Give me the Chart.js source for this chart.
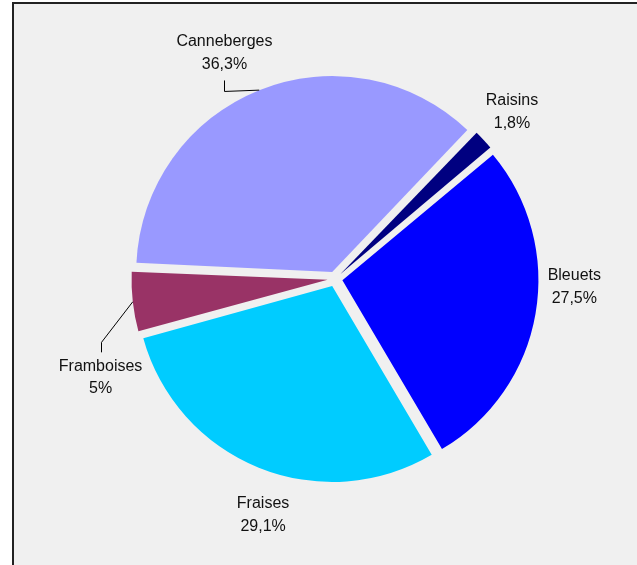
<!DOCTYPE html>
<html>
<head>
<meta charset="utf-8">
<script src="https://cdn.jsdelivr.net/npm/chart.js@4.4.1/dist/chart.umd.min.js"></script>
<style>
  html, body { margin: 0; padding: 0; background: #ffffff; width: 637px; height: 565px; overflow: hidden; }
  #frame { position: absolute; left: 12px; top: 2px; width: 640px; height: 580px;
           background: #f0f0f0; border-top: 2px solid #222; border-left: 2px solid #222; }
  #c { position: absolute; left: 0; top: 0; }
</style>
</head>
<body>
<div id="frame"></div>
<canvas id="c" width="637" height="565"></canvas>
<script>
// ---- data ----
const categories = ['Canneberges', 'Raisins', 'Bleuets', 'Fraises', 'Framboises'];
const values = [36.3, 1.8, 27.5, 29.1, 5];
const valueLabels = ['36,3%', '1,8%', '27,5%', '29,1%', '5%'];
const colors = ['#9999ff', '#000080', '#0000ff', '#00ccff', '#993366'];

// ---- layout (label placement relative to pie centre, in units of radius) ----
const labelOffsets = [[-0.564, -1.152], [0.903, -0.851], [1.221, 0.042], [-0.367, 1.204], [-1.196, 0.503]];
const hasLeader = [true, false, false, false, true];
const OFFSET = 30;           // Chart.js arc offset (translation = OFFSET/4)
const LINE_H = 22.5;
const FONT = '16px "Liberation Sans", Arial, sans-serif';

const fixRadius = {
  id: 'fixRadius',
  beforeDatasetsDraw(chart) {
    const meta = chart.getDatasetMeta(0);
    const baseR = meta.controller.outerRadius;
    meta.data.forEach(el => {
      const circ = el.endAngle - el.startAngle;
      const fix = 1 - Math.sin(Math.min(Math.PI, circ));
      el.outerRadius = baseR - (OFFSET / 4) * fix;
    });
  }
};

const pieLabels = {
  id: 'pieLabels',
  afterDatasetsDraw(chart) {
    const ctx = chart.ctx;
    const meta = chart.getDatasetMeta(0);
    const R = meta.controller.outerRadius;
    const shift = OFFSET / 4;
    ctx.save();
    ctx.font = FONT;
    ctx.fillStyle = '#111';
    ctx.textAlign = 'center';
    ctx.textBaseline = 'middle';
    meta.data.forEach((el, i) => {
      const cx = el.x, cy = el.y;
      const lx = cx + labelOffsets[i][0] * R;
      const ly = cy + labelOffsets[i][1] * R;
      ctx.fillText(categories[i], lx, ly - LINE_H / 2);
      ctx.fillText(valueLabels[i], lx, ly + LINE_H / 2);
      if (hasLeader[i]) {
        const mid = (el.startAngle + el.endAngle) / 2;
        const ax = cx + Math.cos(mid) * (R + shift);
        const ay = cy + Math.sin(mid) * (R + shift);
        const below = ay > ly; // arc point below the label
        const edgeY = below ? ly + LINE_H / 2 + 16 : ly - LINE_H / 2 - 14;
        const elbowY = below ? edgeY + 11 : edgeY - 10;
        ctx.beginPath();
        ctx.strokeStyle = '#000';
        ctx.lineWidth = 1;
        ctx.moveTo(ax, ay);
        ctx.lineTo(Math.round(lx) + 0.5, elbowY);
        ctx.lineTo(Math.round(lx) + 0.5, edgeY);
        ctx.stroke();
      }
    });
    ctx.restore();
  }
};

new Chart(document.getElementById('c'), {
  type: 'pie',
  data: {
    labels: categories,
    datasets: [{
      data: values,
      backgroundColor: colors,
      borderWidth: 0,
      offset: OFFSET
    }]
  },
  options: {
    responsive: false,
    animation: false,
    rotation: -87.4,
    radius: 196,
    layout: { padding: { left: 33, right: 0, top: 0, bottom: 7 } },
    plugins: { legend: { display: false }, tooltip: { enabled: false } }
  },
  plugins: [fixRadius, pieLabels]
});
</script>
</body>
</html>
